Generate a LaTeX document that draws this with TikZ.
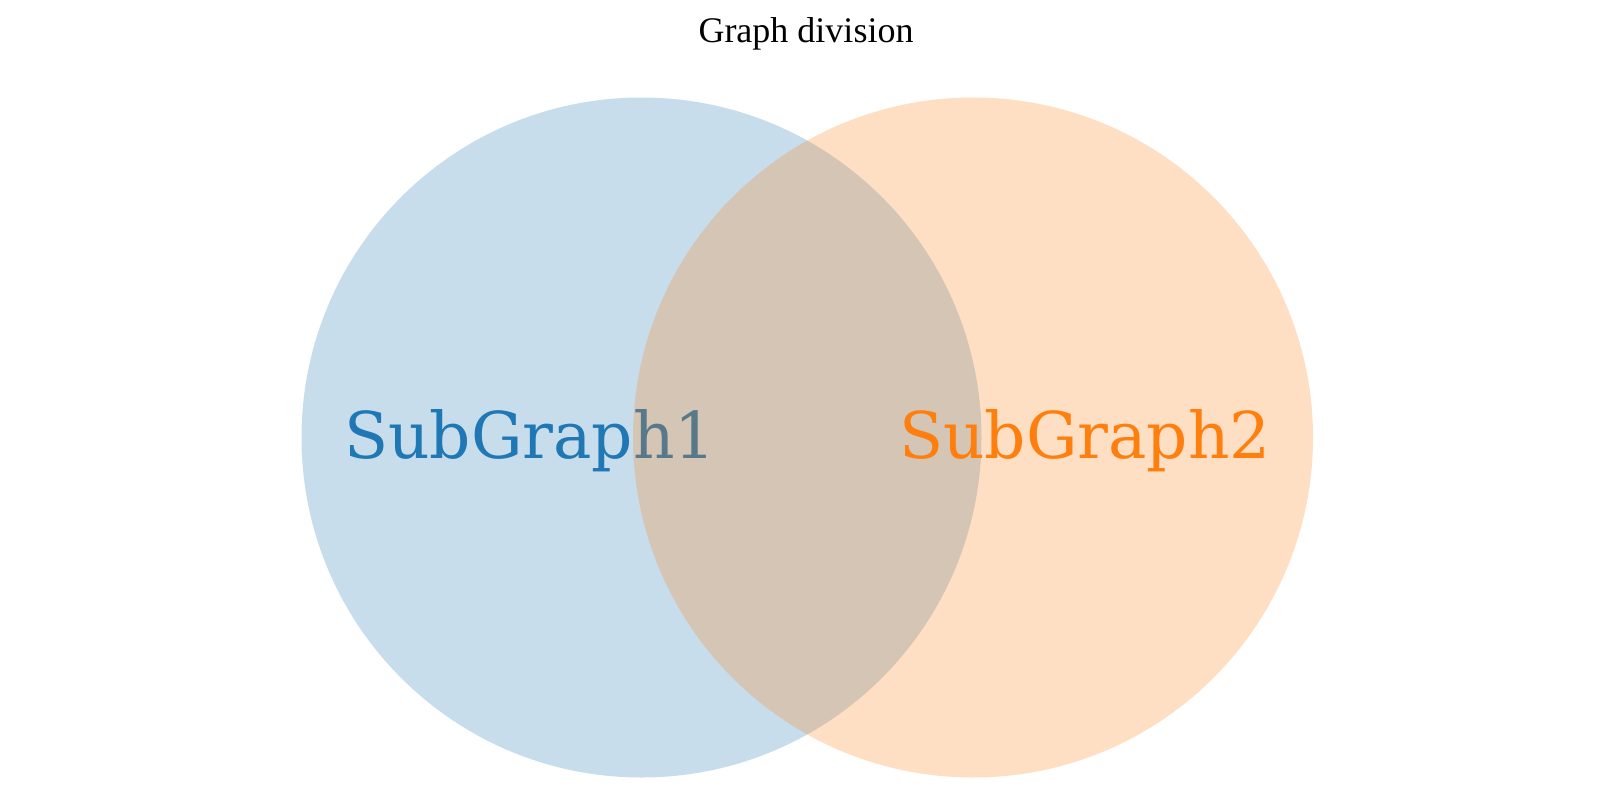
\documentclass[tikz,border=0pt]{standalone}
\usepackage{fontspec}
\setmainfont{Liberation Serif}
\newfontfamily\labelfont{DejaVu Serif}
\definecolor{cblue}{HTML}{1F77B4}
\definecolor{corange}{HTML}{FF7F0E}
\begin{document}
\begin{tikzpicture}[x=1pt,y=-1pt,
  setcircle/.style={circle, inner sep=0pt, minimum size=680pt, fill opacity=0.25, draw=none},
  setlabel/.style={anchor=base, inner sep=0pt, font=\labelfont\fontsize{64.5}{64.5}\selectfont}]
\useasboundingbox (0,0) rectangle (1616,800);
\node[anchor=base, inner sep=0pt, font=\fontsize{36}{36}\selectfont] (title) at (806,43) {Graph division};
\node[setcircle, fill=cblue] (A) at (641.5,437.5) {};
\node[setlabel, text=cblue] (la) at (530,458) {SubGraph1};
\node[setcircle, fill=corange] (B) at (973,437.5) {};
\node[setlabel, text=corange] (lb) at (1085,458) {SubGraph2};
\end{tikzpicture}
\end{document}
